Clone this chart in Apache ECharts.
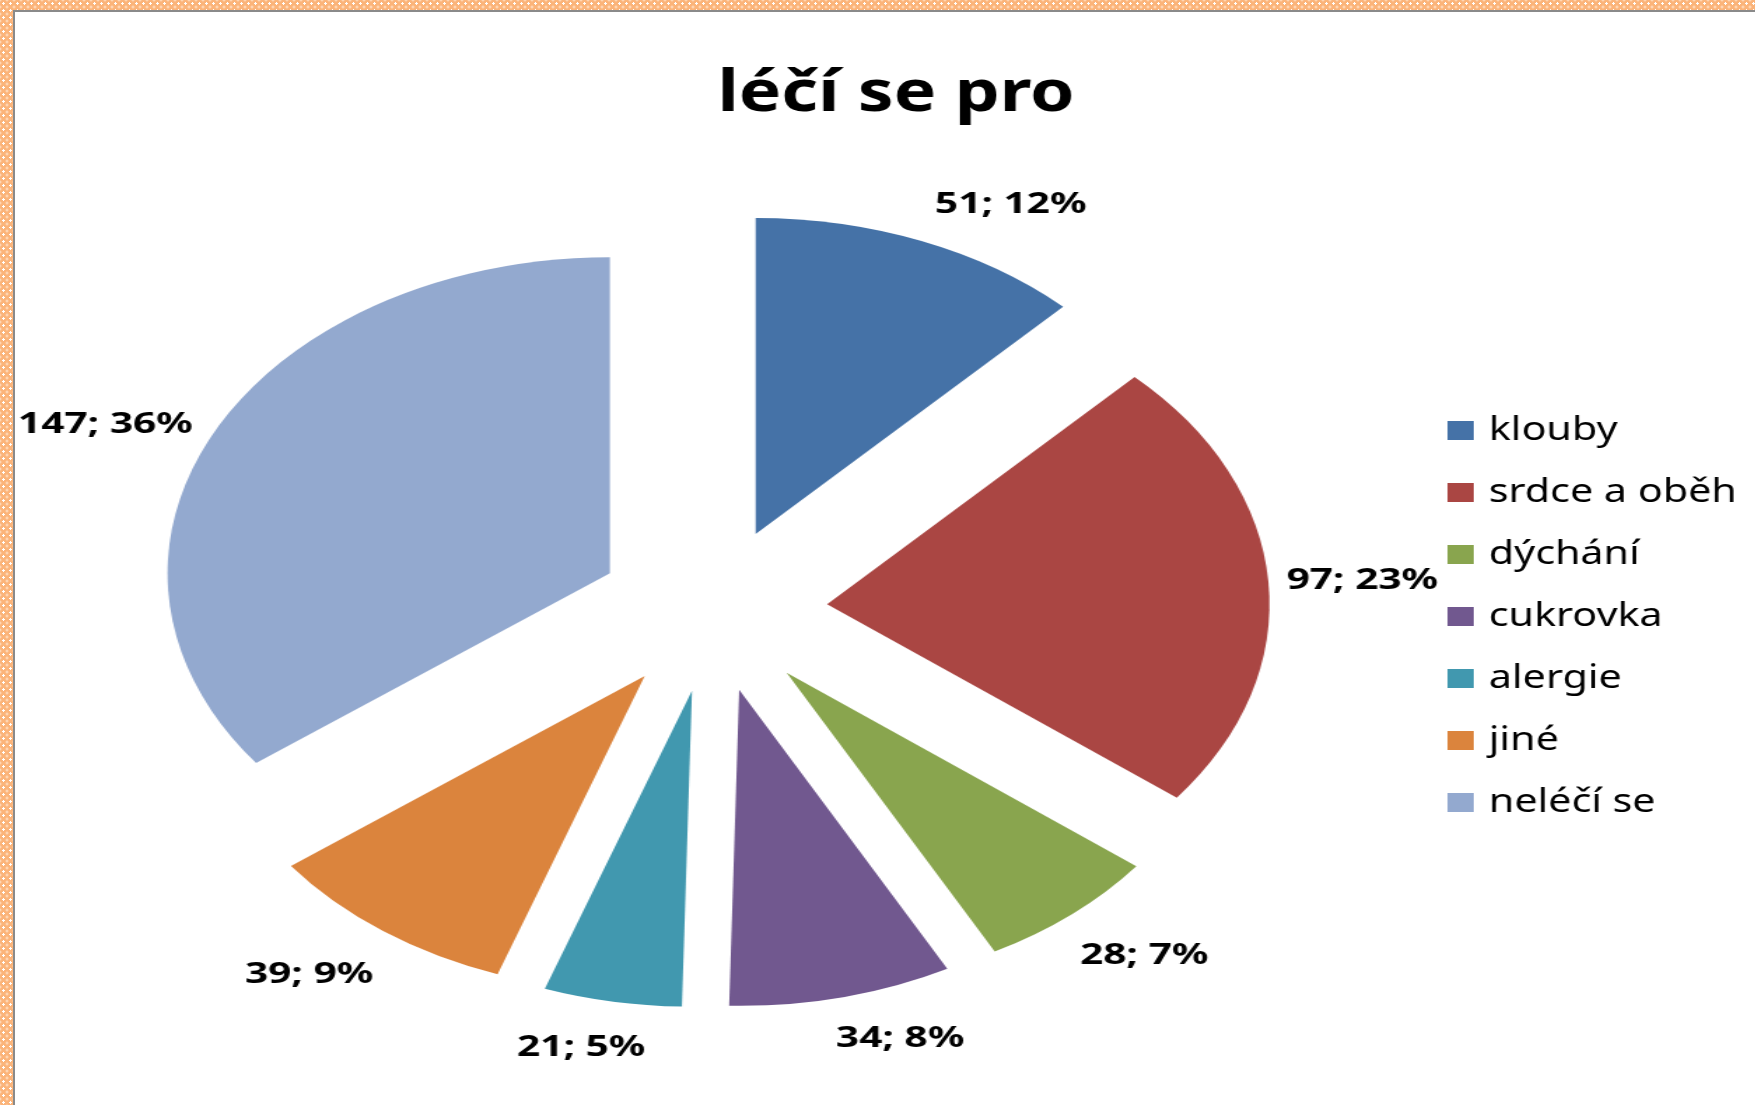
<!DOCTYPE html>
<html>
<head>
<meta charset="utf-8">
<title>léčí se pro</title>
<script src="https://cdn.jsdelivr.net/npm/echarts@6/dist/echarts.min.js"></script>
<style>
    html, body {
        margin: 0;
        width: 1755px;
        height: 1105px;
        overflow: hidden;
    }
    body {
        position: relative;
        /* orange patterned frame */
        background-color: #fbb47a;
        background-image: radial-gradient(#ffffff 1.2px, transparent 1.4px), radial-gradient(#ffe0c4 1px, transparent 1.2px);
        background-size: 7px 7px;
        background-position: 0 0, 3.5px 3.5px;
    }
    .paper {
        position: absolute;
        left: 13px;
        top: 10px;
        right: 0;
        bottom: 0;
        background: #fff;
        border-left: 2px solid #8a8a8a;
        border-top: 2px solid #8a8a8a;
    }
    .chart {
        position: absolute;
        left: 0;
        top: 0;
        height: 1105px;
        transform-origin: 0 0;
    }
    /* the pie is drawn as a wide ellipse */
    .pie { width: 1254px; transform: scaleX(1.4); }
    .texts { width: 1404px; transform: scaleX(1.25); }
</style>
</head>
<body>
<div class="paper"></div>
<div class="chart pie"></div>
<div class="chart texts"></div>
<script>
// data
var categories = ['klouby', 'srdce a oběh', 'dýchání', 'cukrovka', 'alergie', 'jiné', 'neléčí se'];
var values = [51, 97, 28, 34, 21, 39, 147];
var percentLabels = [12, 23, 7, 8, 5, 9, 36];
var colors = ['#4572a7', '#aa4643', '#89a54e', '#71588f', '#4198af', '#db843d', '#93a9cf'];

// how far each label sits from its slice
var labelLen = [39, 13, 54, 43, 47, 54, 17];
var labelLen2 = [-5, 0, -29, -14, -32, -25, 0];

var font = 'Noto Sans';

// pie with value labels
(function () {
    var data = categories.map(function (name, i) {
        return {
            name: name,
            value: values[i],
            selected: true,
            itemStyle: { color: colors[i] },
            labelLine: { length: labelLen[i], length2: labelLen2[i] }
        };
    });

    var option = {
        animation: false,
        series: [{
            type: 'pie',
            center: [509, 610],
            radius: 316,
            startAngle: 90,
            clockwise: true,
            selectedMode: 'multiple',
            selectedOffset: 82,
            avoidLabelOverlap: false,
            emphasis: { disabled: true },
            label: {
                show: true,
                position: 'outside',
                distanceToLabelLine: 0,
                color: '#000',
                fontFamily: font,
                fontWeight: 'bold',
                fontSize: 29,
                formatter: function (p) {
                    return p.value + '; ' + percentLabels[p.dataIndex] + '%';
                }
            },
            labelLine: { show: false },
            data: data
        }]
    };

    var myechart = echarts.init(document.querySelector('.pie'));
    myechart.setOption(option);
})();

// title and legend
(function () {
    var option = {
        animation: false,
        title: {
            text: 'léčí se pro',
            left: 574,
            top: 66,
            padding: 0,
            textStyle: {
                color: '#000',
                fontFamily: font,
                fontWeight: 'bold',
                fontSize: 57
            }
        },
        legend: {
            orient: 'vertical',
            left: 1158,
            top: 414,
            padding: 0,
            itemWidth: 21,
            itemHeight: 19,
            itemGap: 29,
            icon: 'rect',
            selectedMode: false,
            textStyle: {
                color: '#000',
                fontFamily: font,
                fontSize: 33,
                padding: [0, 0, 0, 7]
            }
        },
        // only feeds the legend, draws nothing
        series: [{
            type: 'pie',
            radius: [0, 0],
            silent: true,
            label: { show: false },
            labelLine: { show: false },
            data: categories.map(function (name, i) {
                return { name: name, value: values[i], itemStyle: { color: colors[i] } };
            })
        }]
    };

    var myechart = echarts.init(document.querySelector('.texts'));
    myechart.setOption(option);
})();
</script>
</body>
</html>
